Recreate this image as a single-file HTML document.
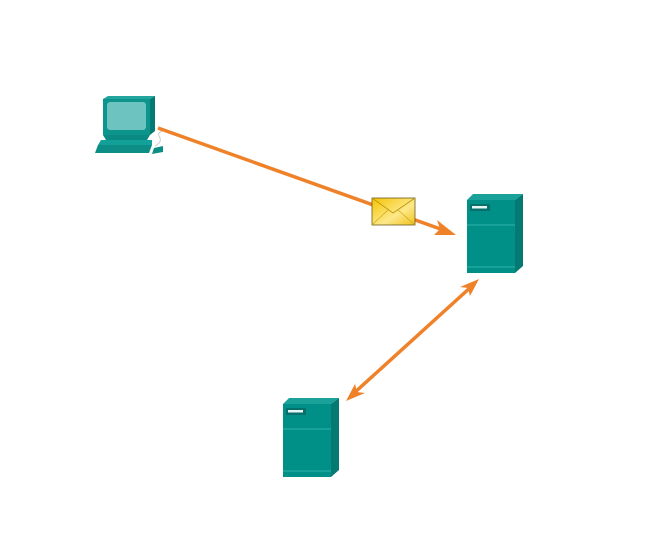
<!DOCTYPE html>
<html><head><style>html,body{margin:0;padding:0;background:#fff}svg{display:block}</style></head>
<body>
<svg width="653" height="556" viewBox="0 0 653 556" xmlns="http://www.w3.org/2000/svg">
<defs>
<g id="srv">
  <polygon points="0,6 6,0 56,0 48,6" fill="#1aa19a"/>
  <polygon points="48,6 56,0 56,72 48,79" fill="#057a73"/>
  <rect x="0" y="6" width="48" height="73" fill="#009088"/>
  <line x1="0" y1="31" x2="48" y2="31" stroke="#2fb3ab" stroke-width="1"/>
  <line x1="0" y1="73" x2="48" y2="73" stroke="#2fb3ab" stroke-width="1"/>
  <rect x="3" y="10" width="20" height="7" fill="#06706a"/>
  <rect x="5" y="12" width="15" height="2.5" fill="#e8f4f3"/>
</g>
<linearGradient id="env" x1="0" y1="0" x2="1" y2="1">
  <stop offset="0" stop-color="#f4c400"/><stop offset="0.6" stop-color="#fde88a"/><stop offset="1" stop-color="#f0c21a"/>
</linearGradient>
</defs>
<!-- computer -->
<polygon points="103,99 108,96 155,96 150,99" fill="#22a59d"/>
<polygon points="150,99 155,96 155,131 150,135" fill="#057a73"/>
<rect x="103" y="99" width="47" height="36" fill="#0d948d"/>
<rect x="107" y="102" width="39" height="28" rx="3" fill="#6cc3bf"/>
<polygon points="103,135 150,135 147,140 106,140" fill="#0a8a83"/>
<polygon points="101,140 152,140 152,145 98,145" fill="#13a098"/>
<polygon points="98,145 152,145 149,153 95,153" fill="#0c8e87"/>
<path d="M155,146 q8,-4 4,-10 q-2,-4 6,-6" stroke="#ccc" fill="none" stroke-width="1"/>
<polygon points="154,148 163,146 163,152 152,154" fill="#0c8e87"/>
<!-- line 1 -->
<line x1="158" y1="128" x2="446" y2="231" stroke="#ef8229" stroke-width="3.5"/>
<polygon points="456,235 434,235 440,229 437,220" fill="#ef8229"/>
<rect x="372" y="198" width="43" height="27" fill="url(#env)" stroke="#6b5a20" stroke-width="0.8"/>
<polyline points="372,198 393,213 415,198" fill="none" stroke="#b8930a" stroke-width="0.8"/>
<line x1="372" y1="225" x2="388" y2="210" stroke="#c9a21a" stroke-width="0.6"/>
<line x1="415" y1="225" x2="398" y2="210" stroke="#c9a21a" stroke-width="0.6"/>
<!-- line 2 -->
<line x1="472" y1="286" x2="353" y2="394" stroke="#ef8229" stroke-width="3.5"/>
<polygon points="479,279 470,296 468,288 460,287" fill="#ef8229"/>
<polygon points="346,401 355,384 357,392 365,393" fill="#ef8229"/>
<!-- servers -->
<use href="#srv" x="467" y="194"/>
<use href="#srv" x="283" y="398"/>
</svg>
</body></html>
